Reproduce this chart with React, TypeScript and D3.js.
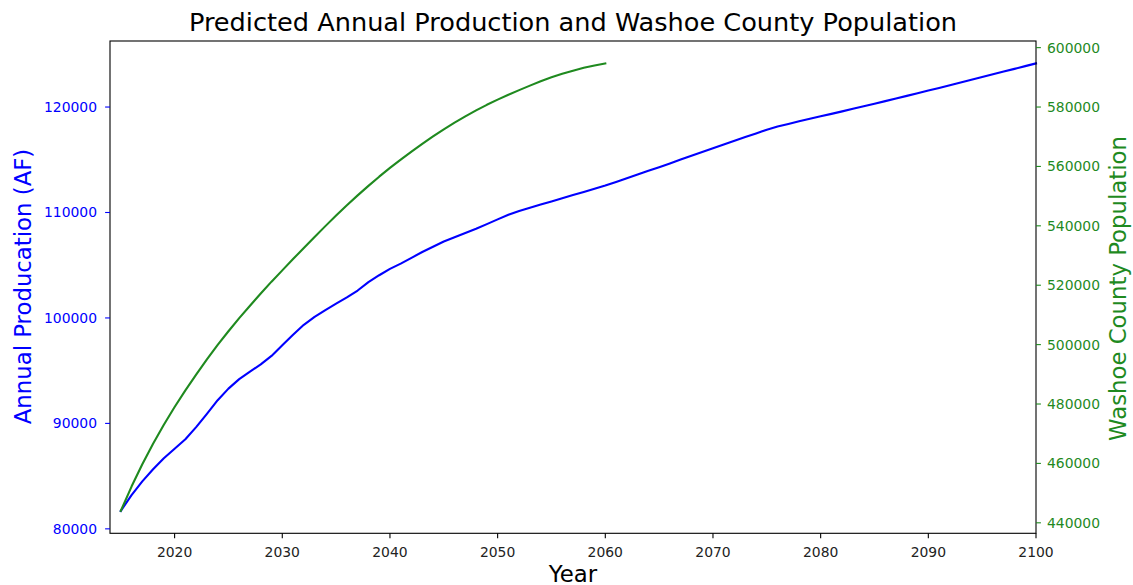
import React from "react";
import * as d3 from "d3";

// Annual production forecast (acre-feet), one value per year from 2015 to 2100
const PRODUCTION_START_YEAR = 2015;
const production: number[] = [
  81700, 83200, 84500, 85650, 86700, 87600, 88500, 89650, 90900, 92200,
  93300, 94200, 94900, 95600, 96400, 97400, 98400, 99350, 100100, 100750,
  101350, 101950, 102600, 103400, 104050, 104650, 105150, 105700, 106250, 106750,
  107250, 107650, 108050, 108450, 108900, 109350, 109780, 110150, 110450, 110750,
  111050, 111350, 111650, 111950, 112250, 112550, 112900, 113250, 113600, 113950,
  114300, 114650, 115020, 115380, 115740, 116100, 116450, 116800, 117150, 117500,
  117850, 118150, 118400, 118650, 118880, 119120, 119350, 119590, 119830, 120070,
  120320, 120560, 120810, 121060, 121310, 121560, 121810, 122070, 122320, 122580,
  122840, 123100, 123360, 123620, 123880, 124140,
];

// Washoe County population forecast, one value per year from 2015 to 2060
const POPULATION_START_YEAR = 2015;
const population: number[] = [
  444000, 452200, 459700, 466600, 473000, 479000, 484600, 489900, 495000, 499900,
  504500, 508900, 513100, 517200, 521200, 525000, 528800, 532550, 536250, 539900,
  543500, 546950, 550250, 553450, 556550, 559500, 562300, 565000, 567600, 570100,
  572500, 574750, 576850, 578850, 580750, 582500, 584150, 585700, 587200, 588650,
  590000, 591200, 592250, 593200, 594000, 594700,
];

const xDomain: [number, number] = [2014, 2100];
const xTicks = [2020, 2030, 2040, 2050, 2060, 2070, 2080, 2090, 2100];
const productionTicks = [80000, 90000, 100000, 110000, 120000];
const populationTicks = [440000, 460000, 480000, 500000, 520000, 540000, 560000, 580000, 600000];

const TITLE = "Predicted Annual Production and Washoe County Population";
const X_LABEL = "Year";
const LEFT_LABEL = "Annual Producation (AF)";
const RIGHT_LABEL = "Washoe County Population";

const W = 1133;
const H = 585;
const plot = { left: 110, right: 1036, top: 41, bottom: 533.3 };

const BLUE = "#0000ff";
const GREEN = "#1f8a1f";
const FONT = "'DejaVu Sans', sans-serif";
const TICK_LEN = 4.9;
const LABEL_SIZE = 22.8;

// pad an extent by 5% on each side
function padded(values: number[]): [number, number] {
  const [lo, hi] = d3.extent(values) as [number, number];
  const m = (hi - lo) * 0.05;
  return [lo - m, hi + m];
}

export default function App() {
  const x = d3.scaleLinear().domain(xDomain).range([plot.left, plot.right]);
  const yLeft = d3.scaleLinear().domain(padded(production)).range([plot.bottom, plot.top]);
  const yRight = d3.scaleLinear().domain(padded(population)).range([plot.bottom, plot.top]);

  const prodPath = d3
    .line<number>()
    .x((_, i) => x(PRODUCTION_START_YEAR + i))
    .y((d) => yLeft(d))(production) as string;

  const popPath = d3
    .line<number>()
    .x((_, i) => x(POPULATION_START_YEAR + i))
    .y((d) => yRight(d))(population) as string;

  const cx = (plot.left + plot.right) / 2;

  return (
    <svg
      width={W}
      height={H}
      style={{ position: "absolute", left: 0, top: 0, background: "#fff" }}
      fontFamily={FONT}
    >
      <rect x={0} y={0} width={W} height={H} fill="#fff" />

      <text x={cx} y={31} textAnchor="middle" fontSize={25.6} fill="#000">
        {TITLE}
      </text>

      <path d={prodPath} fill="none" stroke={BLUE} strokeWidth={2.1} strokeLinejoin="round" strokeLinecap="square" />
      <path d={popPath} fill="none" stroke={GREEN} strokeWidth={2.1} strokeLinejoin="round" strokeLinecap="square" />

      {/* frame */}
      <rect
        x={plot.left}
        y={plot.top}
        width={plot.right - plot.left}
        height={plot.bottom - plot.top}
        fill="none"
        stroke="#000"
        strokeWidth={1.1}
      />

      {/* bottom axis */}
      {xTicks.map((t) => (
        <g key={`x${t}`}>
          <line x1={x(t)} x2={x(t)} y1={plot.bottom} y2={plot.bottom + TICK_LEN} stroke="#000" strokeWidth={1.1} />
          <text x={x(t)} y={556.5} textAnchor="middle" fontSize={13.9} fill="#222">
            {t}
          </text>
        </g>
      ))}
      <text x={cx} y={581.5} textAnchor="middle" fontSize={LABEL_SIZE} fill="#000">
        {X_LABEL}
      </text>

      {/* left axis: production */}
      {productionTicks.map((t) => (
        <g key={`l${t}`}>
          <line x1={plot.left - TICK_LEN} x2={plot.left} y1={yLeft(t)} y2={yLeft(t)} stroke={BLUE} strokeWidth={1.1} />
          <text x={97} y={yLeft(t) + 5} textAnchor="end" fontSize={13.9} fill={BLUE}>
            {t}
          </text>
        </g>
      ))}
      <text
        transform={`translate(30.5,286.5) rotate(-90)`}
        textAnchor="middle"
        fontSize={LABEL_SIZE}
        fill={BLUE}
      >
        {LEFT_LABEL}
      </text>

      {/* right axis: population */}
      {populationTicks.map((t) => (
        <g key={`r${t}`}>
          <line x1={plot.right} x2={plot.right + TICK_LEN} y1={yRight(t)} y2={yRight(t)} stroke={GREEN} strokeWidth={1.1} />
          <text x={1047} y={yRight(t) + 5} textAnchor="start" fontSize={13.9} fill={GREEN}>
            {t}
          </text>
        </g>
      ))}
      <text
        transform={`translate(1125.5,288.5) rotate(-90)`}
        textAnchor="middle"
        fontSize={LABEL_SIZE}
        fill={GREEN}
      >
        {RIGHT_LABEL}
      </text>
    </svg>
  );
}
